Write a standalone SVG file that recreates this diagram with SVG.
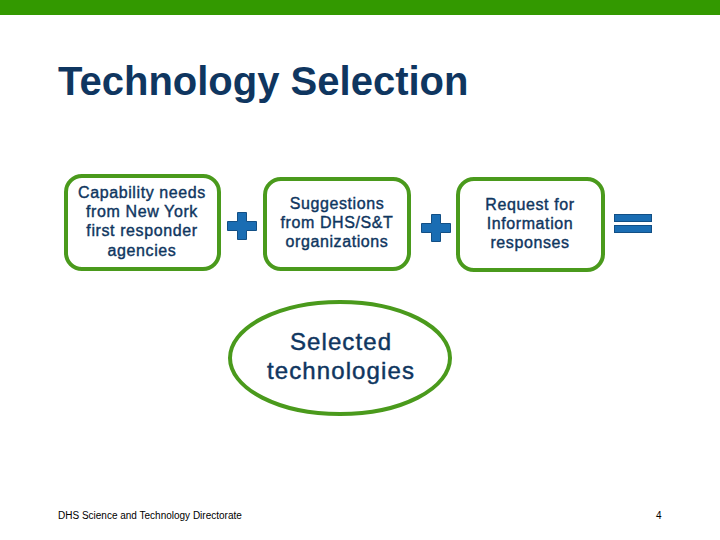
<svg xmlns="http://www.w3.org/2000/svg" width="720" height="540" viewBox="0 0 720 540">
<style>
.box{fill:#fff;stroke:#4a9a1c;stroke-width:4}
.sym{fill:#1a6db3;stroke:#124f85;stroke-width:1}
.t{font-family:"Liberation Sans",Arial,sans-serif;fill:#0f3660;stroke:#0f3660;text-anchor:middle}
.s{font-size:16px;letter-spacing:0.6px;stroke-width:0.4px}
.big{font-size:24px;letter-spacing:1.1px;stroke-width:0.45px}
.foot{font-family:"Liberation Sans",Arial,sans-serif;fill:#000;font-size:10px}
</style>
<rect x="0" y="0" width="720" height="15" fill="#339900"/>
<text x="58" y="95" font-family="Liberation Sans,Arial,sans-serif" font-weight="bold" font-size="40" fill="#0f3660">Technology Selection</text>
<g id="node-capability">
<rect class="box" x="66" y="176" width="153" height="93" rx="16"/>
<text class="t s"><tspan x="142" y="198">Capability needs</tspan><tspan x="142" y="217">from New York</tspan><tspan x="142" y="236">first responder</tspan><tspan x="142" y="256">agencies</tspan></text>
</g>
<g id="node-suggestions">
<rect class="box" x="265" y="179" width="144" height="90" rx="16"/>
<text class="t s"><tspan x="337" y="209">Suggestions</tspan><tspan x="337" y="228">from DHS/S&amp;T</tspan><tspan x="337" y="247">organizations</tspan></text>
</g>
<g id="node-rfi">
<rect class="box" x="458" y="179" width="145" height="91" rx="16"/>
<text class="t s"><tspan x="530" y="210">Request for</tspan><tspan x="530" y="229">Information</tspan><tspan x="530" y="248">responses</tspan></text>
</g>
<g id="node-selected">
<ellipse class="box" cx="340" cy="358" rx="110" ry="56"/>
<text class="t big"><tspan x="341" y="350">Selected</tspan><tspan x="341" y="379">technologies</tspan></text>
</g>
<g id="connectors">
<path class="sym" d="M237.5 212.5h9v9h10v9h-10v9h-9v-9h-10v-9h10z"/>
<path class="sym" d="M431.5 214.5h9v9h10v9h-10v9h-9v-9h-10v-9h10z"/>
<rect class="sym" x="614.5" y="214.5" width="37" height="7"/>
<rect class="sym" x="614.5" y="225.5" width="37" height="7"/>
</g>
<text class="foot" x="58" y="519">DHS Science and Technology Directorate</text>
<text class="foot" x="656" y="519" font-size="12">4</text>
</svg>
